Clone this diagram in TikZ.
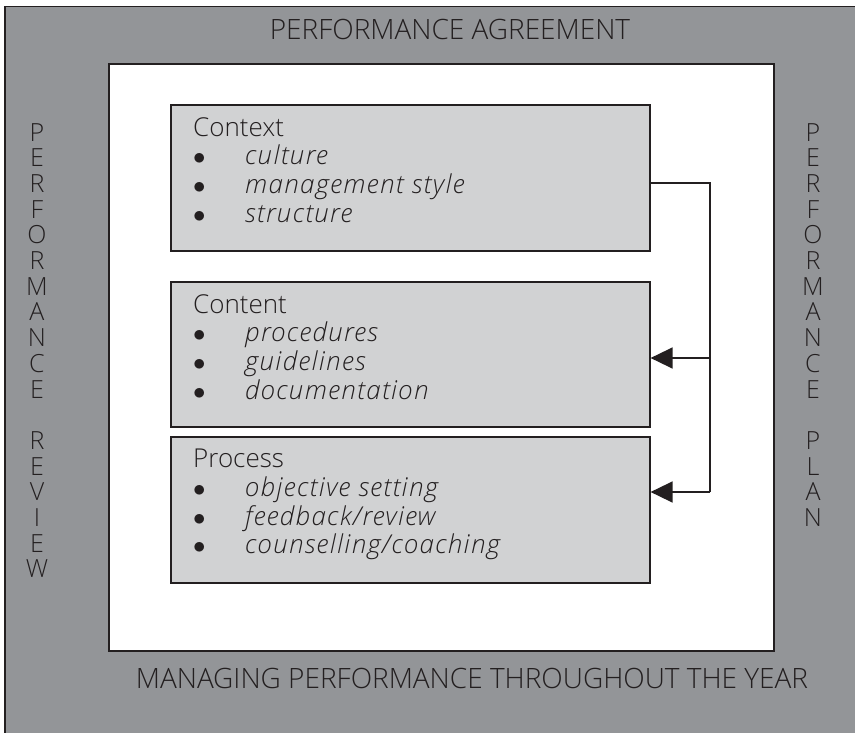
\documentclass[tikz,border=0pt]{standalone}
\usepackage{fontspec}
\setmainfont{Open Sans}[UprightFont=* Light, ItalicFont=* Light Italic]
\usepackage{tikz}
\usetikzlibrary{positioning,arrows.meta}
\definecolor{frame}{HTML}{939598}
\definecolor{boxfill}{HTML}{D1D2D3}
\definecolor{ink}{HTML}{231F20}
\newcommand{\itm}[1]{\makebox[52pt][l]{$\bullet$}{\itshape\addfontfeatures{LetterSpace=5}#1}}

\begin{document}
\begin{tikzpicture}[x=1pt, y=-1pt]
\tikzstyle{panel}=[draw=ink, fill=boxfill, line width=1.6pt, anchor=north west,
                   inner sep=0pt, minimum width=479pt]
\tikzstyle{boxtxt}=[anchor=north west, align=left, inner sep=0pt, text=ink,
                    font=\fontsize{26}{28.7}\selectfont]
\tikzstyle{big}=[inner sep=0pt, text=ink, font=\fontsize{28}{32}\selectfont]
\tikzstyle{vert}=[anchor=north, align=center, inner sep=0pt, text=ink,
                  font=\fontsize{25}{25.7}\selectfont]
\tikzstyle{link}=[draw=ink, line width=1.5pt]
\tikzstyle{tip}=[-{Triangle[length=22pt, width=21pt]}]
\clip (0,0) rectangle (855,733);
% frames
\node[draw=ink, fill=frame, line width=1.5pt, anchor=north west, inner sep=0pt,
      minimum width=880pt, minimum height=760pt] (outer) at (4,6) {};
\node[draw=ink, fill=white, line width=2pt, anchor=north west, inner sep=0pt,
      minimum width=665pt, minimum height=587pt] (inner) at (108,63) {};
\node[big] (agree) at (450,29) {PERFORMANCE AGREEMENT};
\node[big] (year) at (472,678) {MANAGING PERFORMANCE THROUGHOUT THE YEAR};
\node[vert] (review) at (37,123) {P\\E\\R\\F\\O\\R\\M\\A\\N\\C\\E\\[25.7pt]R\\E\\V\\I\\E\\W};
\node[vert] (plan) at (813,123) {P\\E\\R\\F\\O\\R\\M\\A\\N\\C\\E\\[25.7pt]P\\L\\A\\N};
% the three boxes
\foreach \n/\y/\h in {context/104/146, content/281/145, process/436/146}{
  \node[panel, minimum height=\h pt] (\n) at (170,\y) {};}
\node[boxtxt] (contexttxt) at (193,117) {Context\\\itm{culture}\\\itm{management style}\\\itm{structure}};
\node[boxtxt] (contenttxt) at (193,294) {Content\\\itm{procedures}\\\itm{guidelines}\\\itm{documentation}};
\node[boxtxt] (processtxt) at (193,449) {Process\\\itm{objective setting}\\\itm{feedback/review}\\\itm{counselling/coaching}};
% connector
\coordinate (top) at (710,183);
\coordinate (mid) at (710,358);
\coordinate (bot) at (710,492);
\draw[link] (context.east |- top) -- (top) -- (bot);
\draw[link, tip] (mid) -- (content.east |- mid);
\draw[link, tip] (bot) -- (process.east |- bot);
\end{tikzpicture}
\end{document}
